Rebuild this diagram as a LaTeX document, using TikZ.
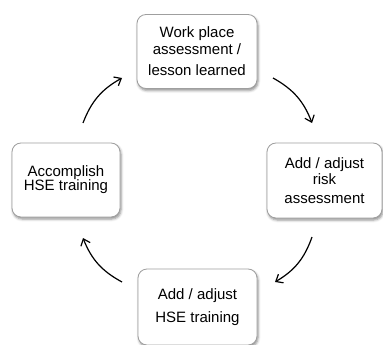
\documentclass[tikz,border=0pt]{standalone}
\usepackage{fontspec}
\setmainfont{Liberation Sans}
\usetikzlibrary{shadows.blur,arrows.meta}

\begin{document}
\begin{tikzpicture}[x=1pt,y=1pt,
    stagebox/.style={draw=gray!75, line width=0.8pt, rounded corners=9pt, fill=white,
      align=center, inner sep=0pt, font=\fontsize{15}{16}\selectfont,
      blur shadow={shadow xshift=1pt, shadow yshift=-2pt, shadow blur radius=2.5pt, shadow opacity=45}},
    cycarrow/.style={-{Straight Barb[length=6pt,width=10pt]}, line width=1.2pt, bend left=20}]
  \useasboundingbox (0,0) rectangle (383,-345);
  %stages
  \node[stagebox, minimum width=120pt, minimum height=74pt] (assess) at (197,-51.5)
    {Work place\\[1pt]assessment /\\[5pt]lesson learned};
  \node[stagebox, minimum width=115pt, minimum height=75pt] (risk) at (324.5,-180.5)
    {Add / adjust\\risk\\[3pt]assessment};
  \node[stagebox, minimum width=119pt, minimum height=76pt] (adjust) at (197.5,-307)
    {Add / adjust\\[7pt]HSE training};
  \node[stagebox, minimum width=108pt, minimum height=74pt] (train) at (66,-180)
    {Accomplish\\[-2pt]HSE training};
  %
  %cycle arrows
  \coordinate (trainout) at (83,-123);
  \coordinate (assessin) at (122,-78);
  \coordinate (assessout) at (273,-78);
  \coordinate (riskin) at (312,-123);
  \coordinate (riskout) at (312,-237);
  \coordinate (adjustin) at (275,-282);
  \coordinate (adjustout) at (122,-282);
  \coordinate (trainin) at (83,-238);
  \draw[cycarrow] (trainout) to (assessin);
  \draw[cycarrow] (assessout) to (riskin);
  \draw[cycarrow] (riskout) to (adjustin);
  \draw[cycarrow] (adjustout) to (trainin);
  %
\end{tikzpicture}
\end{document}
